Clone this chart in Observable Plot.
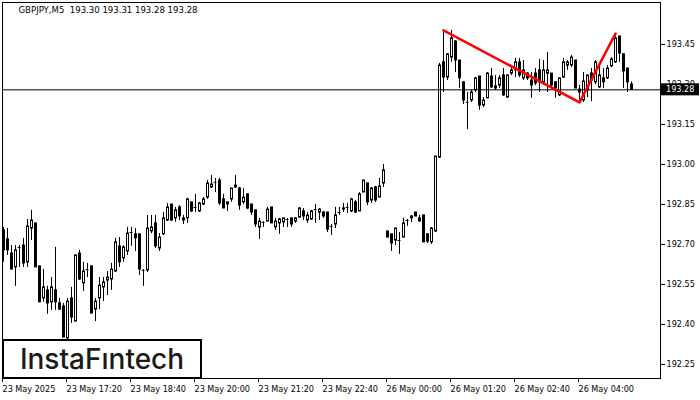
<!DOCTYPE html>
<html><head><meta charset="utf-8">
<script src="https://cdn.jsdelivr.net/npm/d3@7"></script>
<script src="https://cdn.jsdelivr.net/npm/@observablehq/plot@0.6"></script>
<style>
body{margin:0;background:#fff;}
#wrap{position:relative;width:700px;height:400px;overflow:hidden;}
#logo{position:absolute;left:2px;top:339px;width:196px;height:36px;border:2px solid #000;background:#fff;display:flex;align-items:center;justify-content:center;font-family:Inter,"Open Sans",sans-serif;font-weight:500;font-size:28px;color:#1a1a1a;line-height:1;}
</style></head><body><div id="wrap"><div id="logo">InstaFıntech</div></div>
<script>
const titleText = "GBPJPY,M5  193.30 193.31 193.28 193.28";
const lastPrice = 193.28;
const xTickIdx = [0,16,32,48,64,80,96,112,128,144];
const xTickLabels = ["23 May 2025","23 May 17:20","23 May 18:40","23 May 20:00","23 May 21:20","23 May 22:40","26 May 00:00","26 May 01:20","26 May 02:40","26 May 04:00"];
const yTicks = [193.45,193.30,193.15,193.00,192.85,192.70,192.55,192.40,192.25];
const patternIdx = [110,144,153];
const patternPrice = [193.503,193.233,193.491];

const open = [
192.753,192.719,192.666,192.614,192.689,192.696,192.633,192.760,192.779,192.618,
192.498,192.528,192.483,192.528,192.479,192.468,192.348,192.498,192.411,192.666,
192.554,192.606,192.618,192.456,192.498,192.539,192.565,192.569,192.599,192.693,
192.648,192.674,192.745,192.738,192.738,192.603,192.603,192.749,192.779,192.685,
192.738,192.790,192.850,192.798,192.839,192.798,192.798,192.858,192.839,192.824,
192.850,192.876,192.914,192.933,192.940,192.869,192.850,192.869,192.914,192.910,
192.858,192.888,192.850,192.828,192.764,192.783,192.786,192.839,192.764,192.779,
192.783,192.794,192.798,192.786,192.801,192.824,192.790,192.794,192.831,192.820,
192.820,192.820,192.768,192.775,192.820,192.831,192.839,192.824,192.858,192.824,
192.895,192.929,192.865,192.914,192.876,192.929,192.749,192.738,192.715,192.715,
192.726,192.790,192.798,192.820,192.798,192.809,192.738,192.708,192.749,193.026,
193.383,193.326,193.401,193.461,193.390,193.308,193.233,193.240,193.278,193.330,
193.221,193.248,193.330,193.293,193.296,193.334,193.251,193.341,193.353,193.383,
193.323,193.341,193.315,193.341,193.353,193.308,193.341,193.341,193.308,193.259,
193.326,193.371,193.371,193.390,193.281,193.240,193.278,193.341,193.308,193.289,
193.323,193.323,193.368,193.383,193.480,193.413,193.360,193.300];
const high = [
192.764,192.760,192.696,192.696,192.696,192.723,192.794,192.828,192.779,192.618,
192.606,192.543,192.576,192.689,192.498,192.479,192.498,192.539,192.659,192.678,
192.633,192.629,192.618,192.498,192.576,192.576,192.599,192.629,192.723,192.726,
192.696,192.764,192.764,192.760,192.738,192.606,192.809,192.809,192.809,192.741,
192.820,192.854,192.850,192.839,192.846,192.809,192.873,192.858,192.888,192.858,
192.876,192.940,192.959,192.948,192.948,192.888,192.858,192.910,192.959,192.914,
192.910,192.888,192.850,192.828,192.798,192.786,192.839,192.839,192.798,192.798,
192.798,192.798,192.798,192.801,192.839,192.835,192.820,192.828,192.850,192.835,
192.824,192.820,192.775,192.839,192.839,192.854,192.854,192.873,192.865,192.895,
192.940,192.929,192.914,192.918,192.948,193.000,192.749,192.738,192.760,192.745,
192.798,192.794,192.809,192.820,192.809,192.809,192.741,192.764,193.030,193.379,
193.503,193.416,193.503,193.465,193.390,193.311,193.270,193.278,193.326,193.330,
193.251,193.345,193.360,193.334,193.334,193.360,193.334,193.364,193.398,193.398,
193.390,193.345,193.345,193.360,193.394,193.390,193.420,193.341,193.311,193.323,
193.398,193.390,193.409,193.390,193.296,193.345,193.334,193.360,193.390,193.371,
193.360,193.371,193.401,193.491,193.480,193.416,193.360,193.310];
const low = [
192.633,192.659,192.606,192.543,192.614,192.614,192.614,192.715,192.614,192.483,
192.483,192.438,192.453,192.453,192.453,192.351,192.344,192.404,192.411,192.565,
192.524,192.576,192.441,192.411,192.456,192.486,192.509,192.528,192.595,192.614,
192.633,192.659,192.693,192.674,192.584,192.543,192.595,192.741,192.685,192.674,
192.734,192.786,192.786,192.783,192.790,192.775,192.779,192.820,192.820,192.820,
192.846,192.869,192.910,192.895,192.846,192.835,192.824,192.858,192.910,192.828,
192.850,192.831,192.809,192.764,192.719,192.764,192.786,192.779,192.753,192.738,
192.764,192.764,192.764,192.779,192.798,192.790,192.779,192.790,192.779,192.790,
192.798,192.745,192.734,192.760,192.809,192.820,192.816,192.820,192.816,192.824,
192.895,192.846,192.854,192.858,192.876,192.914,192.726,192.674,192.696,192.663,
192.726,192.768,192.783,192.805,192.786,192.708,192.704,192.700,192.745,193.023,
193.270,193.315,193.383,193.345,193.285,193.225,193.131,193.233,193.270,193.203,
193.214,193.248,193.285,193.278,193.285,193.255,193.248,193.334,193.326,193.326,
193.315,193.315,193.248,193.296,193.270,193.308,193.270,193.289,193.248,193.255,
193.323,193.353,193.364,193.285,193.233,193.233,193.251,193.236,193.300,193.285,
193.285,193.319,193.364,193.379,193.383,193.285,193.270,193.280];
const close = [
192.678,192.678,192.606,192.678,192.689,192.629,192.768,192.790,192.614,192.483,
192.539,192.479,192.539,192.483,192.456,192.351,192.486,192.426,192.659,192.569,
192.599,192.606,192.441,192.486,192.546,192.558,192.576,192.606,192.708,192.633,
192.689,192.741,192.745,192.723,192.606,192.603,192.760,192.764,192.693,192.726,
192.798,192.839,192.790,192.828,192.805,192.790,192.869,192.824,192.839,192.854,
192.869,192.929,192.925,192.933,192.854,192.835,192.858,192.910,192.921,192.846,
192.876,192.835,192.820,192.775,192.786,192.783,192.831,192.779,192.786,192.794,
192.798,192.794,192.775,192.798,192.835,192.805,192.809,192.824,192.831,192.831,
192.805,192.756,192.768,192.809,192.820,192.835,192.839,192.869,192.820,192.888,
192.940,192.858,192.910,192.865,192.918,192.978,192.726,192.704,192.760,192.715,
192.779,192.790,192.805,192.805,192.786,192.708,192.711,192.760,193.030,193.371,
193.326,193.413,193.473,193.390,193.323,193.240,193.233,193.270,193.323,193.221,
193.240,193.341,193.289,193.285,193.323,193.259,193.334,193.353,193.383,193.334,
193.353,193.323,193.296,193.304,193.308,193.353,193.353,193.296,193.285,193.323,
193.383,193.383,193.401,193.285,193.270,193.311,193.334,193.315,193.383,193.334,
193.308,193.360,193.394,193.473,193.416,193.349,193.308,193.280];

const candles = open.map((o, i) => ({i, open: o, high: high[i], low: low[i], close: close[i]}));
const dojis = candles.filter(d => d.open === d.close);
const pattern = patternIdx.map((i, k) => ({i, price: patternPrice[k]}));
const FONT = '"DejaVu Sans Condensed","Liberation Sans",sans-serif';

const plot = Plot.plot({
  width: 700, height: 400,
  marginLeft: 2, marginRight: 40, marginTop: 2, marginBottom: 22,
  style: {fontFamily: FONT, fontSize: "9px", color: "#000", background: "#fff"},
  x: {domain: [-0.25, 164.25], axis: null, label: null},
  y: {domain: [192.1975, 193.6075], axis: null, label: null},
  marks: [
    Plot.ruleX(candles, {x: "i", y1: "low", y2: "high", stroke: "#000", strokeWidth: 1}),
    Plot.rect(candles, {x1: d => d.i - 0.25, x2: d => d.i + 0.25, y1: "open", y2: "close",
      fill: d => d.close >= d.open ? "#fff" : "#000", stroke: "#000", strokeWidth: 1}),
    Plot.ruleY(dojis, {y: "close", x1: d => d.i - 0.375, x2: d => d.i + 0.375, stroke: "#000"}),
    Plot.ruleY([lastPrice], {stroke: "#000", strokeWidth: 1}),
    Plot.line(pattern, {x: "i", y: "price", stroke: "#ff0000", strokeWidth: 2.5}),
    Plot.frame({stroke: "#000"}),
    Plot.axisX({ticks: xTickIdx, tickFormat: d => xTickLabels[xTickIdx.indexOf(d)], tickSize: 4, tickPadding: 3,
      textAnchor: "start", anchor: "bottom", label: null, dx: -1}),
    Plot.axisY({ticks: yTicks, tickFormat: d => d.toFixed(2), anchor: "right", tickSize: 4, tickPadding: 2, label: null}),
    Plot.text([titleText], {text: d => d, frameAnchor: "top-left", dx: 16, dy: 4, textAnchor: "start", lineAnchor: "top", fontSize: 9.5})
  ]
});

// pixel-align candle bodies and doji bars on the same half-pixel grid as the wicks
const svgSel = d3.select(plot);
svgSel.selectAll('g[aria-label="rect"]').each(function() {
  const t = this.getAttribute("transform");
  if (!t || !/translate\(\s*0?\.5/.test(t)) this.setAttribute("transform", "translate(0.5,0)");
});

// current price label box at right axis, positioned with the plot's own scales
const ys = plot.scale("y"), xs = plot.scale("x");
const py = ys.apply(lastPrice);
const rx = xs.range[1] + 1;
const g = svgSel.append("g");
g.append("rect").attr("x", rx).attr("y", py - 6).attr("width", 38).attr("height", 12).attr("fill", "#000");
g.append("text").attr("x", rx + 5).attr("y", py).attr("dy", "0.34em").attr("fill", "#fff")
  .attr("text-anchor", "start").attr("font-size", 9).attr("font-family", FONT).text(lastPrice.toFixed(2));

const wrap = document.getElementById("wrap");
plot.style.position = "absolute"; plot.style.left = "0"; plot.style.top = "0";
wrap.insertBefore(plot, wrap.firstChild);
</script>
</body></html>
